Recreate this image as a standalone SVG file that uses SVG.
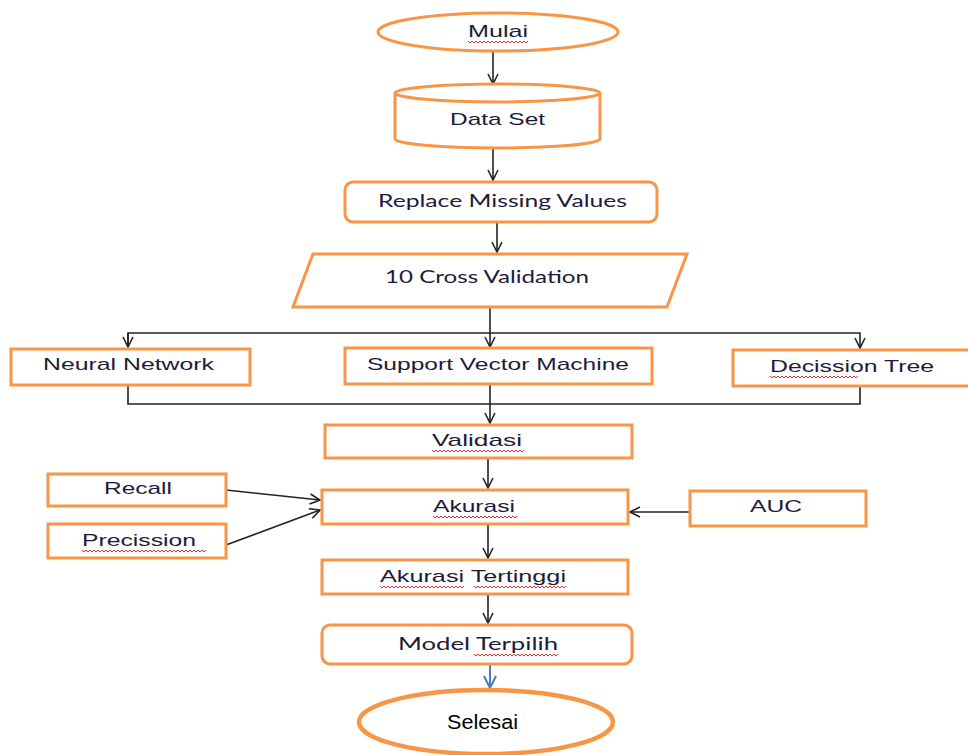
<svg xmlns="http://www.w3.org/2000/svg" width="968" height="755" viewBox="0 0 968 755">
<style>
.n{fill:#fff;stroke:#f79646;stroke-width:3}
.t{font-family:"Liberation Sans",Arial,sans-serif;font-size:17px;fill:#1c1c3a;text-anchor:start}
.c{font-family:Lato,"Open Sans",sans-serif;font-size:17px;fill:#1c1c3a;text-anchor:start}
.e{fill:none;stroke:#222;stroke-width:1.6}
.w{fill:none;stroke:#e03030;stroke-width:1}
</style>
<defs>
<marker id="a" viewBox="0 0 12 12" refX="11" refY="6" markerWidth="12" markerHeight="12" markerUnits="userSpaceOnUse" orient="auto">
<path d="M1,1 L11,6 L1,11" fill="none" stroke="#222" stroke-width="1.6"/>
</marker>
<marker id="b" viewBox="0 0 14 14" refX="13" refY="7" markerWidth="14" markerHeight="14" markerUnits="userSpaceOnUse" orient="auto">
<path d="M1,1 L13,7 L1,13" fill="none" stroke="#4a7ebb" stroke-width="2"/>
</marker>
</defs>

<g id="connectors">
<line class="e" x1="493" y1="52" x2="493" y2="84" marker-end="url(#a)"/>
<line class="e" x1="493" y1="148" x2="493" y2="180" marker-end="url(#a)"/>
<line class="e" x1="497" y1="222" x2="497" y2="252" marker-end="url(#a)"/>
<line class="e" x1="490" y1="307" x2="490" y2="347" marker-end="url(#a)"/>
<polyline class="e" points="128,347 128,333 860,333 860,348" marker-end="url(#a)"/>
<line class="e" x1="128" y1="333" x2="128" y2="347" marker-end="url(#a)"/>
<polyline class="e" points="128,385 128,404 860,404 860,386"/>
<line class="e" x1="490" y1="384" x2="490" y2="423" marker-end="url(#a)"/>
<line class="e" x1="488" y1="458" x2="488" y2="488" marker-end="url(#a)"/>
<line class="e" x1="226" y1="490" x2="320" y2="500" marker-end="url(#a)"/>
<line class="e" x1="226" y1="545" x2="320" y2="510" marker-end="url(#a)"/>
<line class="e" x1="690" y1="512" x2="630" y2="512" marker-end="url(#a)"/>
<line class="e" x1="488" y1="524" x2="488" y2="558" marker-end="url(#a)"/>
<line class="e" x1="488" y1="594" x2="488" y2="623" marker-end="url(#a)"/>
<line x1="490" y1="665" x2="490" y2="688" stroke="#4a7ebb" stroke-width="2" marker-end="url(#b)"/>
</g>

<g id="mulai">
<ellipse class="n" cx="498" cy="32" rx="120" ry="19"/>
<text class="t" x="468" y="37" textLength="60" lengthAdjust="spacingAndGlyphs">Mulai</text>
<path class="w" d="M468,41 l2,2 l2,-2 l2,2 l2,-2 l2,2 l2,-2 l2,2 l2,-2 l2,2 l2,-2 l2,2 l2,-2 l2,2 l2,-2 l2,2 l2,-2 l2,2 l2,-2 l2,2 l2,-2 l2,2 l2,-2 l2,2 l2,-2 l2,2 l2,-2 l2,2 l2,-2 l2,2 l2,-2"/>
</g>

<g id="dataset">
<path class="n" d="M395,93 L395,139 A102.5,9 0 0 0 600,139 L600,93 A102.5,9 0 0 0 395,93 A102.5,9 0 0 0 600,93"/>
<text class="t" x="450" y="125" textLength="95" lengthAdjust="spacingAndGlyphs">Data Set</text>
</g>

<g id="replace">
<rect class="n" x="345" y="182" width="312" height="40" rx="8"/>
<text class="c" x="378" y="207" textLength="249" lengthAdjust="spacingAndGlyphs">Replace Missing Values</text>
</g>

<g id="crossval">
<polygon class="n" points="313,254 687,254 667,307 293,307"/>
<text class="c" x="385" y="283" textLength="204" lengthAdjust="spacingAndGlyphs">10 Cross Validation</text>
</g>

<g id="nn">
<rect class="n" x="11" y="349" width="239" height="36"/>
<text class="t" x="43" y="370" textLength="171" lengthAdjust="spacingAndGlyphs">Neural Network</text>
</g>

<g id="svm">
<rect class="n" x="345" y="348" width="307" height="36"/>
<text class="t" x="367" y="370" textLength="262" lengthAdjust="spacingAndGlyphs">Support Vector Machine</text>
</g>

<g id="dt">
<rect class="n" x="733" y="350" width="240" height="36"/>
<text class="t" x="770" y="372" textLength="164" lengthAdjust="spacingAndGlyphs">Decission Tree</text>
<path class="w" d="M770,376 l2,2 l2,-2 l2,2 l2,-2 l2,2 l2,-2 l2,2 l2,-2 l2,2 l2,-2 l2,2 l2,-2 l2,2 l2,-2 l2,2 l2,-2 l2,2 l2,-2 l2,2 l2,-2 l2,2 l2,-2 l2,2 l2,-2 l2,2 l2,-2 l2,2 l2,-2 l2,2 l2,-2 l2,2 l2,-2 l2,2 l2,-2 l2,2 l2,-2 l2,2 l2,-2 l2,2 l2,-2 l2,2 l2,-2 l2,2 l2,-2"/>
</g>

<g id="validasi">
<rect class="n" x="325" y="425" width="307" height="33"/>
<text class="t" x="432" y="446" textLength="90" lengthAdjust="spacingAndGlyphs">Validasi</text>
<path class="w" d="M432,450 l2,2 l2,-2 l2,2 l2,-2 l2,2 l2,-2 l2,2 l2,-2 l2,2 l2,-2 l2,2 l2,-2 l2,2 l2,-2 l2,2 l2,-2 l2,2 l2,-2 l2,2 l2,-2 l2,2 l2,-2 l2,2 l2,-2 l2,2 l2,-2 l2,2 l2,-2 l2,2 l2,-2 l2,2 l2,-2 l2,2 l2,-2 l2,2 l2,-2 l2,2 l2,-2 l2,2 l2,-2 l2,2 l2,-2 l2,2 l2,-2 l2,2 l2,-2"/>
</g>

<g id="recall">
<rect class="n" x="48" y="474" width="178" height="32"/>
<text class="t" x="104" y="494" textLength="68" lengthAdjust="spacingAndGlyphs">Recall</text>
</g>

<g id="akurasi">
<rect class="n" x="322" y="490" width="306" height="34"/>
<text class="t" x="433" y="512" textLength="82" lengthAdjust="spacingAndGlyphs">Akurasi</text>
<path class="w" d="M433,516 l2,2 l2,-2 l2,2 l2,-2 l2,2 l2,-2 l2,2 l2,-2 l2,2 l2,-2 l2,2 l2,-2 l2,2 l2,-2 l2,2 l2,-2 l2,2 l2,-2 l2,2 l2,-2 l2,2 l2,-2 l2,2 l2,-2 l2,2 l2,-2 l2,2 l2,-2 l2,2 l2,-2 l2,2 l2,-2 l2,2 l2,-2 l2,2 l2,-2 l2,2 l2,-2 l2,2 l2,-2 l2,2 l2,-2"/>
</g>

<g id="auc">
<rect class="n" x="690" y="491" width="176" height="35"/>
<text class="t" x="750" y="512" textLength="52" lengthAdjust="spacingAndGlyphs">AUC</text>
</g>

<g id="precission">
<rect class="n" x="48" y="524" width="178" height="34"/>
<text class="t" x="82" y="546" textLength="114" lengthAdjust="spacingAndGlyphs">Precission</text>
<path class="w" d="M82,550 l2,2 l2,-2 l2,2 l2,-2 l2,2 l2,-2 l2,2 l2,-2 l2,2 l2,-2 l2,2 l2,-2 l2,2 l2,-2 l2,2 l2,-2 l2,2 l2,-2 l2,2 l2,-2 l2,2 l2,-2 l2,2 l2,-2 l2,2 l2,-2 l2,2 l2,-2 l2,2 l2,-2 l2,2 l2,-2 l2,2 l2,-2 l2,2 l2,-2 l2,2 l2,-2 l2,2 l2,-2 l2,2 l2,-2 l2,2 l2,-2 l2,2 l2,-2 l2,2 l2,-2 l2,2 l2,-2 l2,2 l2,-2 l2,2 l2,-2 l2,2 l2,-2 l2,2 l2,-2 l2,2 l2,-2 l2,2 l2,-2"/>
</g>

<g id="tertinggi">
<rect class="n" x="322" y="560" width="306" height="34"/>
<text class="t" x="380" y="582" textLength="186" lengthAdjust="spacingAndGlyphs">Akurasi Tertinggi</text>
<path class="w" d="M380,586 l2,2 l2,-2 l2,2 l2,-2 l2,2 l2,-2 l2,2 l2,-2 l2,2 l2,-2 l2,2 l2,-2 l2,2 l2,-2 l2,2 l2,-2 l2,2 l2,-2 l2,2 l2,-2 l2,2 l2,-2 l2,2 l2,-2 l2,2 l2,-2 l2,2 l2,-2 l2,2 l2,-2 l2,2 l2,-2 l2,2 l2,-2 l2,2 l2,-2 l2,2 l2,-2 l2,2 l2,-2 l2,2 l2,-2 M474,586 l2,2 l2,-2 l2,2 l2,-2 l2,2 l2,-2 l2,2 l2,-2 l2,2 l2,-2 l2,2 l2,-2 l2,2 l2,-2 l2,2 l2,-2 l2,2 l2,-2 l2,2 l2,-2 l2,2 l2,-2 l2,2 l2,-2 l2,2 l2,-2 l2,2 l2,-2 l2,2 l2,-2 l2,2 l2,-2 l2,2 l2,-2 l2,2 l2,-2 l2,2 l2,-2 l2,2 l2,-2 l2,2 l2,-2 l2,2 l2,-2 l2,2 l2,-2"/>
</g>

<g id="model">
<rect class="n" x="322" y="625" width="310" height="39" rx="8"/>
<text class="c" x="398" y="650" textLength="160" lengthAdjust="spacingAndGlyphs">Model Terpilih</text>
<path class="w" d="M474,654 l2,2 l2,-2 l2,2 l2,-2 l2,2 l2,-2 l2,2 l2,-2 l2,2 l2,-2 l2,2 l2,-2 l2,2 l2,-2 l2,2 l2,-2 l2,2 l2,-2 l2,2 l2,-2 l2,2 l2,-2 l2,2 l2,-2 l2,2 l2,-2 l2,2 l2,-2 l2,2 l2,-2 l2,2 l2,-2 l2,2 l2,-2 l2,2 l2,-2 l2,2 l2,-2 l2,2 l2,-2 l2,2 l2,-2"/>
</g>

<g id="selesai">
<ellipse cx="486" cy="722" rx="127" ry="32" fill="#fff" stroke="#f79646" stroke-width="4.5"/>
<text x="447" y="729" font-family="Liberation Sans,Arial,sans-serif" font-size="20" fill="#000" textLength="71" lengthAdjust="spacingAndGlyphs">Selesai</text>
</g>
</svg>
